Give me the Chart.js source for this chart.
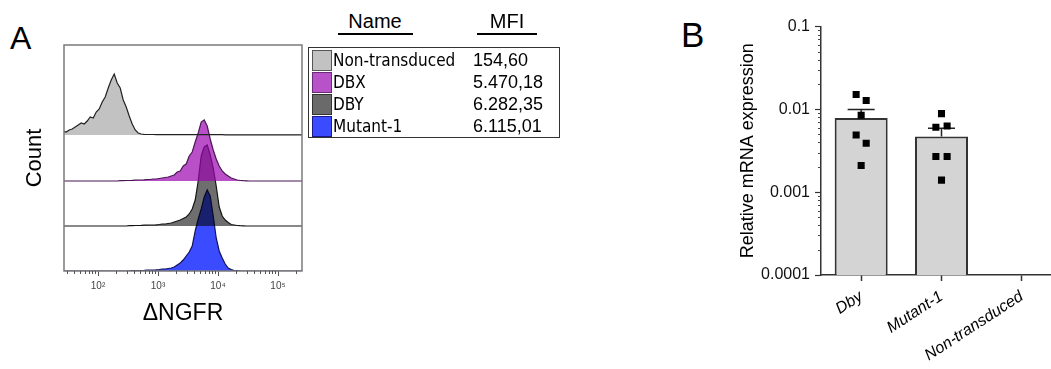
<!DOCTYPE html>
<html>
<head>
<meta charset="utf-8">
<script src="https://cdn.jsdelivr.net/npm/chart.js@4"></script>
<style>
  html, body { margin: 0; padding: 0; width: 1051px; height: 369px; overflow: hidden; background: #fff; }
  body { position: relative; font-family: 'Liberation Sans', Arial, Helvetica, sans-serif; color: #000; }
  canvas { position: absolute; }
  .panel { position: absolute; line-height: 1; }
  .abs { position: absolute; white-space: nowrap; }
</style>
</head>
<body>
<div class="panel" style="left:10px;top:22px;font-size:32px;">A</div>
<div class="panel" style="left:681px;top:17px;font-size:35px;">B</div>
<canvas id="hist" width="302" height="296" style="left:10px;top:35px;"></canvas>
<div id="mfiTable"></div>
<canvas id="mrna" width="329" height="357" style="left:733px;top:12px;"></canvas>

<script>
// ---------- ΔNGFR flow histograms ----------
// bin centres, log10 of fluorescence intensity
const ngfrLogBins = [
  1.42, 1.47, 1.52, 1.57, 1.62, 1.67, 1.72, 1.77, 1.82, 1.87,
  1.92, 1.97, 2.02, 2.07, 2.12, 2.17, 2.22, 2.27, 2.32, 2.37,
  2.42, 2.47, 2.52, 2.57, 2.62, 2.67, 2.72, 2.77, 2.82, 2.87,
  2.92, 2.97, 3.02, 3.07, 3.12, 3.17, 3.22, 3.27, 3.32, 3.37,
  3.42, 3.47, 3.52, 3.57, 3.62, 3.67, 3.72, 3.77, 3.82, 3.87,
  3.92, 3.97, 4.02, 4.07, 4.12, 4.17, 4.22, 4.27, 4.32, 4.37,
  4.42, 4.47, 4.52, 4.57, 4.62, 4.67, 4.72, 4.77, 4.82, 4.87,
  4.92, 4.97, 5.02, 5.07, 5.12, 5.17, 5.22, 5.27, 5.32, 5.37,
  5.42
];

const histNames = ['Non-transduced', 'DBX', 'DBY', 'Mutant-1'];
const histMfi = ['154,60', '5.470,18', '6.282,35', '6.115,01'];

const countNonTransduced = [
  4, 3, 5, 6, 8, 10, 12, 11, 14, 18,
  17, 23, 26, 33, 38, 47, 55, 61, 52, 47,
  35, 28, 19, 11, 5, 2, 1, 0.6, 0.5, 0.5,
  0.5, 0.4, 0.5, 0.4, 0.4, 0.5, 0.4, 0.4, 0.4, 0.3,
  0.3, 0.3, 0.3, 0.3, 0.3, 0.3, 0.3, 0.3, 0.3, 0.3,
  0.3, 0.3, 0.3, 0.3, 0.2, 0.2, 0.2, 0.2, 0.2, 0.2,
  0.2, 0.2, 0.2, 0.2, 0.2, 0.2, 0.2, 0.2, 0.2, 0.2,
  0.2, 0.2, 0.2, 0.2, 0.2, 0.2, 0.2, 0.2, 0.2, 0.2,
  0.2
];
const countDbx = [
  0, 0, 0, 0, 0, 0, 0, 0, 0, 0,
  0, 0, 0, 0, 0, 0, 0, 0, 0, 0.3,
  0.4, 0.5, 0.5, 0.6, 0.8, 1, 1, 1.2, 1.5, 1.5,
  2, 2, 2.5, 3, 3.5, 4, 5, 6, 9, 10,
  15, 17, 25, 29, 39, 48, 59, 61, 55, 42,
  31, 22, 15, 10, 7, 5, 3, 2, 1, 0.5,
  0.3, 0.2, 0, 0, 0, 0, 0, 0, 0, 0,
  0, 0, 0, 0, 0, 0, 0, 0, 0, 0,
  0
];
const countDby = [
  0, 0, 0, 0, 0, 0, 0, 0, 0, 0,
  0, 0, 0, 0, 0, 0, 0, 0, 0, 0,
  0, 0, 0.3, 0.4, 0.5, 0.5, 0.6, 0.8, 0.8, 1,
  1, 1.2, 1.5, 2, 2, 2.5, 3, 4, 5, 6,
  7.5, 9, 12, 17, 26, 45, 70, 79, 81, 71,
  58, 40, 19, 10, 6, 3.5, 1.5, 1, 0.5, 0.3,
  0.2, 0, 0, 0, 0, 0, 0, 0, 0, 0,
  0, 0, 0, 0, 0, 0, 0, 0, 0, 0,
  0
];
const countMutant1 = [
  0, 0, 0, 0, 0, 0, 0, 0, 0, 0,
  0, 0, 0, 0, 0, 0, 0, 0, 0, 0,
  0, 0, 0, 0.3, 0.4, 0.5, 0.5, 0.7, 1, 1,
  1, 1.2, 1.5, 2, 2, 2.5, 3, 4, 6, 8,
  11, 15, 19, 25, 40, 52, 62, 74, 81, 75,
  55, 33, 20, 13, 7, 3, 1.5, 0.5, 0.3, 0,
  0, 0, 0, 0, 0, 0, 0, 0, 0, 0,
  0, 0, 0, 0, 0, 0, 0, 0, 0, 0,
  0
];

// ---------- relative mRNA expression ----------
const mrnaGroups = ['Dby', 'Mutant-1', 'Non-transduced'];
const mrnaMean = [0.0079, 0.0047, null];
const mrnaSem = [0.0021, 0.0012, null];
const mrnaDby = [0.0151, 0.0128, 0.0085, 0.0049, 0.0039, 0.0021];
const mrnaMutant1 = [0.0089, 0.0061, 0.0063, 0.0027, 0.0027, 0.0014];
const mrnaNonTransduced = [];

// ---------- styling ----------
const SANS = "'Liberation Sans', Arial, Helvetica, sans-serif";
Chart.defaults.font.family = SANS;

// stacked rows: fill, outline, legend swatch colours and baseline (y units);
// upper rows are drawn over lower ones, so their fills are translucent
const histStyle = [
  { fill: '#c2c2c2', line: '#222222', swatch: '#c2c2c2', edge: '#555555', base: 136 },
  { fill: 'rgba(155,5,177,0.7)', line: '#4a1656', swatch: '#b752c8', edge: '#6a2a78', base: 90 },
  { fill: 'rgba(0,0,0,0.57)', line: '#151515', swatch: '#6a6a6a', edge: '#333333', base: 45 },
  { fill: '#3b4bff', line: '#13135a', swatch: '#3b4bff', edge: '#1a1a8a', base: 0 }
];
// horizontal scatter of the replicate squares within each group
const mrnaSpread = [
  [-0.0625, 0.0625, 0, -0.0625, 0.0625, 0],
  [0, -0.07, 0.07, -0.07, 0.07, 0],
  []
];

const SUP = { '0': '⁰', '1': '¹', '2': '²', '3': '³', '4': '⁴', '5': '⁵', '6': '⁶', '7': '⁷', '8': '⁸', '9': '⁹' };
const powerLabel = v => '10' + String(Math.round(Math.log10(v))).split('').map(d => SUP[d]).join('');

// 1..9 x 10^n tick positions for a log axis, powers of ten flagged major
function logTicks(lo, hi) {
  const out = [];
  for (let e = Math.floor(Math.log10(lo)); e <= Math.ceil(Math.log10(hi)); e++) {
    for (let m = 1; m <= 9; m++) {
      const v = Number((m * Math.pow(10, e)).toPrecision(3));
      if (v >= lo * 0.999999 && v <= hi * 1.000001) out.push({ value: v, major: m === 1 });
    }
  }
  return out;
}

// short marks for the minor log ticks
const minorTicks = {
  id: 'minorTicks',
  afterDraw(chart, args, opts) {
    const { ctx } = chart;
    (opts.axes || []).forEach(a => {
      const s = chart.scales[a.id];
      ctx.save();
      ctx.strokeStyle = a.color;
      ctx.lineWidth = a.width;
      ctx.beginPath();
      s.ticks.forEach(t => {
        if (t.major) return;
        const p = Math.round(s.getPixelForValue(t.value)) + 0.5;
        if (s.isHorizontal()) { ctx.moveTo(p, s.top); ctx.lineTo(p, s.top + a.length); }
        else { ctx.moveTo(s.right - a.length, p); ctx.lineTo(s.right, p); }
      });
      ctx.stroke();
      ctx.restore();
    });
  }
};

// box round the histogram plot
const plotFrame = {
  id: 'plotFrame',
  afterDraw(chart) {
    const { ctx, chartArea: a } = chart;
    ctx.save();
    ctx.strokeStyle = '#7a7a7a';
    ctx.lineWidth = 1.5;
    ctx.strokeRect(a.left, a.top, a.right - a.left, a.bottom - a.top);
    ctx.restore();
  }
};

// ---------- histogram chart ----------
const histCounts = [countNonTransduced, countDbx, countDby, countMutant1];
const histDatasets = histNames.map((name, k) => ({
  label: name,
  data: histCounts[k].map((c, i) => ({ x: Math.pow(10, ngfrLogBins[i]), y: histStyle[k].base + c })),
  borderColor: histStyle[k].line,
  backgroundColor: histStyle[k].fill,
  borderWidth: 1.2,
  pointRadius: 0,
  tension: 0,
  fill: { value: histStyle[k].base }
}));

new Chart(document.getElementById('hist'), {
  type: 'line',
  data: { datasets: histDatasets },
  options: {
    responsive: false,
    animation: false,
    events: [],
    layout: { autoPadding: false, padding: { left: 0, top: 10, right: 10, bottom: 0 } },
    plugins: {
      legend: { display: false },
      tooltip: { enabled: false },
      minorTicks: { axes: [{ id: 'x', length: 3, color: '#555', width: 1 }] }
    },
    scales: {
      x: {
        type: 'logarithmic',
        min: Math.pow(10, 1.433),
        max: Math.pow(10, 5.4),
        afterBuildTicks: s => { s.ticks = logTicks(s.min, s.max); },
        afterFit: s => { s.height = 60; },
        grid: {
          drawOnChartArea: false,
          tickLength: 5,
          tickWidth: 1,
          tickColor: c => (c.tick && c.tick.major ? '#555' : 'rgba(0,0,0,0)')
        },
        border: { display: false },
        ticks: {
          autoSkip: false,
          maxRotation: 0,
          padding: 4,
          color: '#444',
          font: { size: 10 },
          callback: (v, i, t) => (t[i].major ? powerLabel(v) : '')
        },
        title: { display: true, text: 'ΔNGFR', color: '#000', font: { size: 23 }, padding: { top: 0, bottom: 4 } }
      },
      y: {
        min: 0,
        max: 226,
        afterFit: s => { s.width = 54; },
        grid: { display: false },
        border: { display: false },
        ticks: { display: false },
        title: { display: true, text: 'Count', color: '#000', font: { size: 22 }, padding: { top: 12, bottom: 0 } }
      }
    }
  },
  plugins: [plotFrame, minorTicks]
});

// ---------- name / MFI table ----------
(function buildTable() {
  const host = document.getElementById('mfiTable');
  const add = (css, text) => {
    const d = document.createElement('div');
    d.className = 'abs';
    d.style.cssText = css;
    if (text !== undefined) d.textContent = text;
    host.appendChild(d);
    return d;
  };
  add('left:335px;top:9px;width:80px;text-align:center;font-size:20px;line-height:24px;', 'Name');
  add('left:338px;top:33px;width:75px;height:2px;background:#000;');
  add('left:467px;top:9px;width:80px;text-align:center;font-size:20px;line-height:24px;', 'MFI');
  add('left:477px;top:33px;width:60px;height:2px;background:#000;');
  add('left:308px;top:47px;width:252px;height:91px;box-sizing:border-box;border:1.5px solid #333;');
  histNames.forEach((name, i) => {
    const cy = 60 + 22 * i;
    add('left:312px;top:' + (cy - 10.5) + 'px;width:20px;height:21px;box-sizing:border-box;border:1px solid ' +
        histStyle[i].edge + ';background:' + histStyle[i].swatch + ';');
    add('left:333px;top:' + (cy - 11) + 'px;line-height:22px;font-size:17px;font-family:"DejaVu Sans Condensed","DejaVu Sans",sans-serif;font-stretch:condensed;', name);
    add('left:473px;top:' + (cy - 11) + 'px;line-height:22px;font-size:18px;', histMfi[i]);
  });
})();

// ---------- mRNA chart ----------
const mrnaPoints = [mrnaDby, mrnaMutant1, mrnaNonTransduced];
const stemData = [];
const capData = [];
mrnaGroups.forEach((g, i) => {
  if (mrnaMean[i] == null) return;
  if (stemData.length) stemData.push({ x: i - 0.5, y: null });
  stemData.push({ x: i, y: mrnaMean[i] }, { x: i, y: mrnaMean[i] + mrnaSem[i] });
  capData.push({ x: i, y: mrnaMean[i] + mrnaSem[i] });
});

const pointSets = mrnaGroups.map((g, gi) => ({
  type: 'scatter',
  label: g,
  xAxisID: 'xPos',
  data: mrnaPoints[gi].map((v, i) => ({ x: gi + mrnaSpread[gi][i], y: v })),
  pointStyle: 'rect',
  pointRadius: 5,
  backgroundColor: '#000',
  borderColor: '#000',
  borderWidth: 0,
  order: 1
}));

new Chart(document.getElementById('mrna'), {
  type: 'bar',
  data: {
    labels: mrnaGroups,
    datasets: [
      {
        label: 'mean',
        data: mrnaMean,
        backgroundColor: '#d4d4d4',
        borderColor: '#333',
        borderWidth: 2,
        barPercentage: 0.66,
        categoryPercentage: 1,
        grouped: false,
        order: 3
      },
      {
        type: 'line',
        label: 'SEM',
        xAxisID: 'xPos',
        data: stemData,
        borderColor: '#222',
        borderWidth: 1.5,
        pointRadius: 0,
        spanGaps: false,
        fill: false,
        order: 2
      },
      {
        type: 'scatter',
        label: 'SEM cap',
        xAxisID: 'xPos',
        data: capData,
        pointStyle: 'line',
        pointRadius: 13.5,
        borderColor: '#222',
        borderWidth: 1.5,
        order: 2
      },
      ...pointSets
    ]
  },
  options: {
    responsive: false,
    animation: false,
    events: [],
    layout: { autoPadding: false, padding: { left: 0, top: 12, right: 0, bottom: 0 } },
    plugins: {
      legend: { display: false },
      tooltip: { enabled: false },
      minorTicks: { axes: [{ id: 'y', length: 3, color: '#444', width: 1 }] }
    },
    scales: {
      x: {
        type: 'category',
        offset: true,
        afterFit: s => { s.height = 94; },
        grid: { offset: false, drawOnChartArea: false, tickLength: 6, tickColor: '#333', tickWidth: 1.5 },
        border: { color: '#333', width: 1.5 },
        ticks: {
          autoSkip: false,
          minRotation: 33,
          maxRotation: 33,
          padding: 6,
          color: '#000',
          font: { size: 16, style: 'italic' }
        }
      },
      xPos: { type: 'linear', min: -0.5, max: 2.5, offset: false, display: false, grid: { offset: false } },
      y: {
        type: 'logarithmic',
        min: 0.0001,
        max: 0.1,
        afterBuildTicks: s => { s.ticks = logTicks(s.min, s.max); },
        afterFit: s => { s.width = 88; },
        grid: {
          drawOnChartArea: false,
          tickLength: 6,
          tickWidth: 1.2,
          tickColor: c => (c.tick && c.tick.major ? '#333' : 'rgba(0,0,0,0)')
        },
        border: { color: '#333', width: 1.5 },
        ticks: {
          autoSkip: false,
          padding: 5,
          color: '#111',
          font: { size: 16 },
          callback: (v, i, t) => (t[i].major ? String(v) : '')
        },
        title: { display: true, text: 'Relative mRNA expression', color: '#000', font: { size: 18 }, padding: { top: 4, bottom: 0 } }
      }
    }
  },
  plugins: [minorTicks]
});
</script>
</body>
</html>
